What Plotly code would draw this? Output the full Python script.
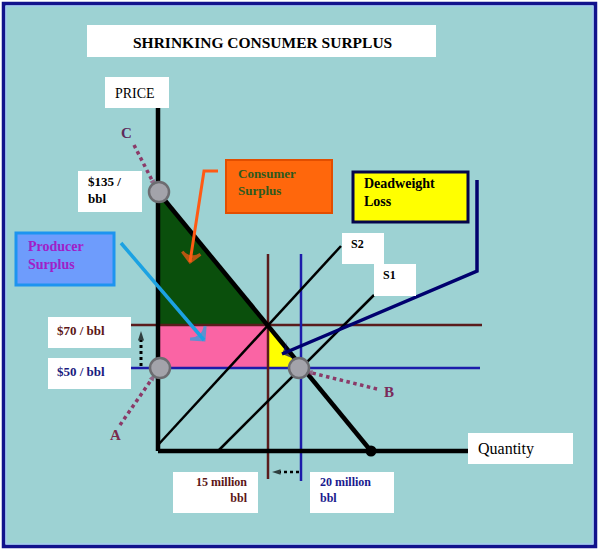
import plotly.graph_objects as go

# ---------------- data (schematic units: origin at the axes corner) ----------------
price_labels = ["$135 / bbl", "$70 / bbl", "$50 / bbl"]
price_level = [259, 126, 83]          # C, P70, P50
qty_labels = ["15 million bbl", "20 million bbl"]
qty_level = [110, 143]                # Q15, Q20
demand_q = [0, 213]
demand_p = [259, 0]
s1_q = [60, 216]
s1_p = [0, 156]
s2_q = [0, 183]
s2_p = [6, 205]
axis_len_q = 310
axis_len_p = 343

# ---------------- helpers for decoration placement (pixel -> schematic) -------------
OX, OY = 158, 451
def X(px):
    return px - OX
def Y(py):
    return OY - py

SERIF = "Liberation Serif, Times New Roman, serif"
fig = go.Figure()

P135, P70, P50 = price_level
Q15, Q20 = qty_level

# surplus areas
fig.add_trace(go.Scatter(x=[0, 0, Q15, 0], y=[P135, P70, P70, P135], fill="toself",
                         fillcolor="#0a4f0c", line=dict(width=0), mode="lines", hoverinfo="skip"))
fig.add_trace(go.Scatter(x=[0, Q15, Q15, 0, 0], y=[P70, P70, P50, P50, P70], fill="toself",
                         fillcolor="#fa64a4", line=dict(width=0), mode="lines", hoverinfo="skip"))
fig.add_trace(go.Scatter(x=[Q15, Q15, Q20, Q15], y=[P70, P50, P50, P70], fill="toself",
                         fillcolor="#ffff00", line=dict(width=0), mode="lines", hoverinfo="skip"))

# price / quantity level lines
fig.add_trace(go.Scatter(x=[X(125), X(482)], y=[P70, P70], mode="lines",
                         line=dict(color="#5a1c1c", width=2.5)))
fig.add_trace(go.Scatter(x=[X(129), X(480)], y=[P50, P50], mode="lines",
                         line=dict(color="#1c1caa", width=2.5)))
fig.add_trace(go.Scatter(x=[Q15, Q15], y=[Y(254), Y(479)], mode="lines",
                         line=dict(color="#5a1c1c", width=2.5)))
fig.add_trace(go.Scatter(x=[Q20, Q20], y=[Y(254), Y(481)], mode="lines",
                         line=dict(color="#1c1caa", width=2.5)))

# supply curves
fig.add_trace(go.Scatter(x=s2_q, y=s2_p, mode="lines", line=dict(color="black", width=2.5)))
fig.add_trace(go.Scatter(x=s1_q, y=s1_p, mode="lines", line=dict(color="black", width=2.5)))

# demand
fig.add_trace(go.Scatter(x=demand_q, y=demand_p, mode="lines", line=dict(color="black", width=4.5)))

# axes
fig.add_trace(go.Scatter(x=[0, 0], y=[0, axis_len_p], mode="lines", line=dict(color="black", width=4.5)))
fig.add_trace(go.Scatter(x=[0, axis_len_q], y=[0, 0], mode="lines", line=dict(color="black", width=4.5)))

# arrows (polyline + arrow marker at the end)
def arrow(xs, ys, color, width, dash="solid", symbol="arrow", size=12, lw=0):
    n = len(xs)
    fig.add_trace(go.Scatter(
        x=xs, y=ys, mode="lines+markers",
        line=dict(color=color, width=width, dash=dash),
        marker=dict(symbol=symbol, angleref="previous", size=[0] * (n - 1) + [size],
                    color=color, line=dict(color=color, width=lw)),
        hoverinfo="skip"))

# orange arrow (consumer surplus)
arrow([X(218), X(204), X(190)], [Y(171), Y(171), Y(262)], "#ff5a14", 3,
      symbol="arrow-wide-open", size=13, lw=3)
# light blue arrow (producer surplus)
arrow([X(121), X(204)], [Y(243), Y(340)], "#1ca2e2", 3.5, symbol="arrow-wide-open", size=14, lw=3)
# navy arrow (deadweight loss)
arrow([X(477), X(477), X(282)], [Y(180), Y(271), Y(354)], "#00006e", 3.5, symbol="arrow-wide", size=14)

# dotted pointer lines to C, A, B
dot_col = "#8b3a68"
arrow([X(134), X(156)], [Y(145), Y(188)], dot_col, 3.5, dash="dot", size=9)
arrow([X(120), X(156)], [Y(425), Y(373)], dot_col, 3.5, dash="dot", size=9)
arrow([X(377), X(304)], [Y(389), Y(371)], dot_col, 3.5, dash="dot", size=9)

# black dotted shift arrows
arrow([X(141), X(141)], [Y(366), Y(331)], "black", 3, dash="dot", size=10)
arrow([X(299), X(272)], [Y(472), Y(472)], "black", 2.5, dash="dot", size=9)

# equilibrium circles
fig.add_trace(go.Scatter(x=[1, 2, Q20 - 2], y=[P135, P50, P50], mode="markers",
                         marker=dict(size=20, color="#a3a3aa", line=dict(color="#6c6c70", width=2.5)),
                         hoverinfo="skip"))
# end point of demand on quantity axis
fig.add_trace(go.Scatter(x=[demand_q[1]], y=[demand_p[1]], mode="markers",
                         marker=dict(size=11, color="black"), hoverinfo="skip"))

# ---------------- boxes ----------------
shapes = []
def box(x0, y0, x1, y1, fill="white", line_color=None, lw=0, layer="above"):
    shapes.append(dict(type="rect", xref="x", yref="y", x0=X(x0), x1=X(x1), y0=Y(y0), y1=Y(y1),
                       fillcolor=fill, line=dict(color=line_color or fill, width=lw), layer=layer))

# background frame
box(3.5, 3.5, 595.5, 546.5, fill="#9dd2d3", line_color="#12128c", lw=3.5, layer="below")
box(6, 6, 593, 544, fill="rgba(0,0,0,0)", line_color="#a8c4ff", lw=1, layer="below")

box(87, 25, 436, 57)           # title
box(105, 77, 169, 108)         # PRICE
box(468, 433, 573, 464)        # Quantity
box(78, 171, 142, 212)         # $135
box(48, 317, 131, 348)         # $70
box(48, 358, 131, 389)         # $50
box(173, 472, 258, 513)        # 15 million
box(310, 472, 394, 513)        # 20 million
box(342, 233, 384, 264)        # S2
box(374, 264, 416, 296)        # S1
box(226, 160, 332, 213, fill="#ff670c", line_color="#e24e00", lw=2)        # consumer surplus
box(353, 172, 468, 222, fill="#ffff00", line_color="#05054a", lw=3)        # deadweight loss
box(16, 233, 114, 285, fill="#6e9cfc", line_color="#1d94f0", lw=3)         # producer surplus

# ---------------- texts ----------------
ann = []
def text(px, py, s, size, color="black", bold=True, xanchor="left", align="left"):
    ann.append(dict(x=X(px), y=Y(py), xref="x", yref="y", text=("<b>%s</b>" % s) if bold else s,
                    showarrow=False, xanchor=xanchor, yanchor="middle", align=align,
                    font=dict(family=SERIF, size=size, color=color)))

text(262, 42, "SHRINKING CONSUMER SURPLUS", 15.5, xanchor="center", align="center")
text(113, 93, "PRICE", 14, bold=False)
text(476, 449, "Quantity", 16, bold=False)
text(86, 190, "$135 /<br>bbl", 13)
text(55, 330, price_labels[1], 13, color="#5c1616")
text(55, 371, price_labels[2], 13, color="#1a1a7e")
text(250, 490, qty_labels[0].replace(" bbl", "<br>bbl"), 12, color="#5c1616", xanchor="right", align="right")
text(318, 490, qty_labels[1].replace(" bbl", "<br>bbl"), 12, color="#1a1a8e")
text(349, 244, "S2", 12)
text(381, 275, "S1", 12)
text(236, 182, "Consumer<br>Surplus", 13, color="#2e5a1e")
text(362, 192, "Deadweight<br>Loss", 14)
text(26, 255, "Producer<br>Surplus", 14, color="#a020c8")
text(126, 133, "C", 15, color="#5e2a5a", xanchor="center")
text(115, 435, "A", 15, color="#7a2a4c", xanchor="center")
text(389, 392, "B", 15, color="#7a2a5a", xanchor="center")

fig.update_layout(
    width=600, height=553, margin=dict(l=0, r=0, t=0, b=0),
    paper_bgcolor="white", plot_bgcolor="white", showlegend=False,
    xaxis=dict(range=[X(0), X(600)], visible=False, fixedrange=True),
    yaxis=dict(range=[Y(553), Y(0)], visible=False, fixedrange=True),
    shapes=shapes, annotations=ann,
)
fig.write_html("out.html", config={"displayModeBar": False},
               post_script="document.body.style.margin='0';document.body.style.overflow='hidden';")
